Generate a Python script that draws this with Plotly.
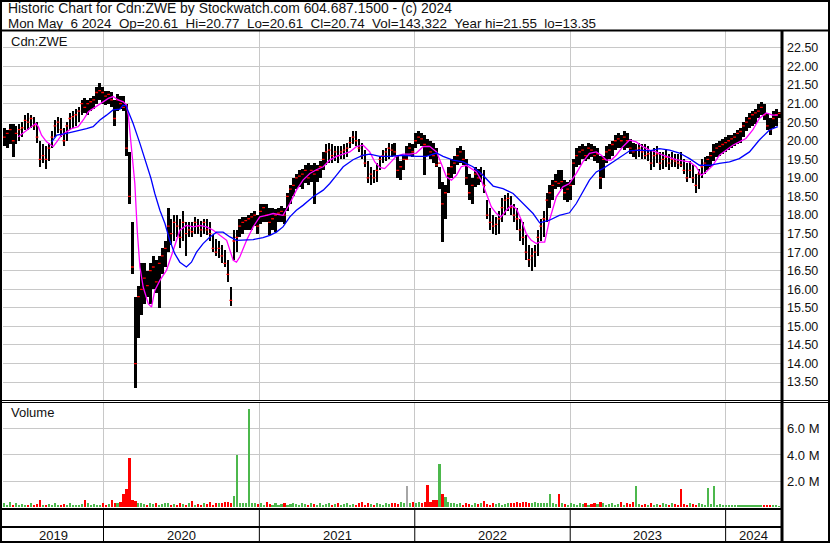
import pandas as pd
import plotly.graph_objects as go

# ---------------- data ----------------
first_week = "2019-05-13"          # weekly bars, one per week
x_start, x_end = "2019-05-10", "2024-05-10"
years = [2019, 2020, 2021, 2022, 2023, 2024]

high = [
    20.35, 20.30, 20.45, 20.45, 20.40, 20.45, 20.50, 20.70, 20.75, 20.70,
    20.65, 20.50, 20.00, 19.90, 19.85, 19.95, 20.25, 20.55, 20.65, 20.60,
    20.35, 20.50, 20.75, 20.80, 20.85, 20.90, 21.10, 21.15, 21.10, 21.15,
    21.20, 21.45, 21.55, 21.45, 21.35, 21.35, 21.30, 21.10, 21.25, 21.20,
    21.20, 21.00, 19.70, 17.80, 15.80, 16.10, 16.70, 16.70, 16.50, 16.70,
    16.90, 16.80, 16.90, 17.10, 17.30, 18.20, 17.90, 18.00, 18.00, 17.90,
    18.10, 17.80, 17.80, 17.80, 17.95, 17.90, 17.85, 17.90, 17.90, 17.80,
    17.45, 17.35, 17.30, 17.20, 17.05, 16.80, 16.05, 17.60, 17.60, 17.90,
    17.95, 17.95, 18.00, 18.05, 18.10, 18.00, 18.30, 18.30, 18.30, 18.20,
    18.20, 18.15, 18.20, 18.25, 18.20, 18.60, 18.80, 19.00, 19.10, 19.20,
    19.25, 19.35, 19.40, 19.35, 19.40, 19.35, 19.45, 19.70, 19.90, 19.95,
    19.90, 19.85, 19.85, 19.85, 19.90, 19.95, 20.10, 20.25, 20.25, 20.05,
    19.95, 19.75, 19.45, 19.30, 19.20, 19.40, 19.60, 19.75, 19.80, 19.95,
    19.90,
    19.95, 19.60, 19.45, 19.60, 19.85, 19.95, 19.90, 20.20, 20.25, 20.20,
    20.15, 20.05, 20.00, 19.95, 19.80, 19.30, 18.90, 18.80, 19.30, 19.50,
    19.60, 19.80, 19.85, 19.75, 19.50, 19.10, 19.00, 19.30, 19.25, 19.30,
    19.20, 18.40, 18.20, 18.00, 17.95, 18.10, 18.45, 18.55, 18.60, 18.50,
    18.30, 18.20, 17.90, 17.80, 17.45, 17.20, 17.10, 17.20, 17.60, 17.90,
    18.10, 18.60, 18.80, 18.95, 19.10, 19.20, 19.20, 18.95, 18.90, 18.95,
    19.50, 19.80, 19.85, 19.90, 19.85, 19.95, 19.90, 19.85, 19.80, 19.60,
    19.60, 19.85, 19.90, 20.00, 20.15, 20.20, 20.15, 20.25, 20.20, 20.05,
    19.95, 19.90, 19.95, 19.90, 19.90, 19.85, 19.75, 19.80, 19.85, 19.70,
    19.70, 19.75, 19.65, 19.70, 19.65, 19.65, 19.70, 19.50, 19.40, 19.45,
    19.35, 19.10, 19.25, 19.50, 19.55, 19.60, 19.70, 19.90, 19.95, 20.00,
    20.05, 20.10, 20.15, 20.15, 20.20, 20.30, 20.35, 20.50, 20.65, 20.75,
    20.80, 20.85, 21.00, 21.05, 21.00, 20.75, 20.60, 20.80, 20.85, 20.77,
]
low = [
    19.85, 19.80, 19.90, 19.55, 19.90, 20.00, 20.10, 20.30, 20.30, 20.35,
    20.30, 19.95, 19.30, 19.40, 19.25, 19.45, 19.80, 20.10, 20.20, 20.10,
    19.85, 20.00, 20.30, 20.35, 20.40, 20.50, 20.70, 20.75, 20.70, 20.80,
    20.85, 21.00, 21.10, 21.00, 20.95, 21.00, 20.90, 20.40, 20.80, 20.85,
    20.80, 19.60, 18.30, 16.40, 13.35, 14.70, 15.30, 15.60, 15.80, 15.60,
    16.00, 15.90, 15.50, 16.40, 16.60, 17.00, 17.20, 17.30, 17.40, 17.10,
    17.30, 16.90, 17.40, 17.40, 17.50, 17.50, 17.40, 17.50, 17.45, 17.30,
    17.00, 16.90, 16.85, 16.70, 16.60, 16.20, 15.55, 16.80, 17.00, 17.40,
    17.50, 17.60, 17.60, 17.60, 17.70, 17.50, 17.75, 17.80, 17.80, 17.45,
    17.60, 17.55, 17.80, 17.80, 17.75, 18.10, 18.30, 18.50, 18.70, 18.75,
    18.70, 18.85, 18.80, 18.90, 18.30, 18.90, 19.00, 19.20, 19.35, 19.40,
    19.40, 19.45, 19.40, 19.50, 19.50, 19.55, 19.80, 19.90, 19.85, 19.70,
    19.50, 19.30, 18.85, 18.80, 18.85, 18.90, 19.20, 19.40, 19.45, 19.50,
    19.55,
    19.60, 19.00, 18.95, 19.20, 19.50, 19.60, 19.55, 19.80, 19.90, 19.85,
    19.07, 19.60, 19.50, 19.40, 19.30, 18.70, 17.27, 17.90, 18.60, 19.00,
    19.10, 19.35, 19.40, 19.35, 18.80, 18.40, 18.30, 18.75, 18.80, 18.90,
    18.60, 17.90, 17.60, 17.50, 17.45, 17.50, 17.80, 18.00, 18.10, 18.00,
    17.80, 17.60, 17.30, 17.20, 16.80, 16.60, 16.50, 16.60, 16.90, 17.30,
    17.40, 17.80, 18.20, 18.40, 18.70, 18.75, 18.70, 18.40, 18.35, 18.40,
    18.80, 19.30, 19.35, 19.50, 19.45, 19.50, 19.55, 19.45, 19.40, 18.70,
    19.00, 19.40, 19.50, 19.60, 19.75, 19.80, 19.80, 19.75, 19.80, 19.65,
    19.55, 19.50, 19.55, 19.50, 19.50, 19.45, 19.20, 19.30, 19.40, 19.20,
    19.25, 19.30, 19.20, 19.30, 19.30, 19.25, 19.30, 19.10, 18.90, 19.00,
    18.85, 18.60, 18.70, 19.00, 19.10, 19.20, 19.30, 19.45, 19.55, 19.60,
    19.65, 19.70, 19.75, 19.80, 19.85, 19.90, 19.95, 20.10, 20.25, 20.35,
    20.40, 20.45, 20.60, 20.70, 20.55, 20.30, 20.15, 20.35, 20.40, 20.61,
]
close = [
    20.10, 20.20, 20.30, 20.00, 20.20, 20.30, 20.35, 20.55, 20.50, 20.60,
    20.40, 20.10, 19.50, 19.60, 19.50, 19.80, 20.10, 20.40, 20.50, 20.30,
    20.00, 20.40, 20.60, 20.65, 20.70, 20.80, 21.00, 20.90, 21.00, 21.05,
    21.10, 21.30, 21.35, 21.30, 21.20, 21.25, 21.10, 20.60, 21.10, 21.00,
    20.90, 19.80, 18.50, 16.60, 14.00, 15.80, 16.00, 16.30, 16.10, 16.50,
    16.60, 16.20, 16.70, 16.90, 17.10, 17.70, 17.50, 17.80, 17.70, 17.40,
    17.80, 17.50, 17.60, 17.55, 17.80, 17.70, 17.60, 17.80, 17.60, 17.50,
    17.10, 17.00, 17.10, 16.90, 16.70, 16.40, 15.70, 17.30, 17.40, 17.70,
    17.80, 17.85, 17.90, 17.95, 18.00, 17.70, 18.10, 18.20, 18.00, 17.80,
    17.90, 18.00, 18.05, 18.10, 18.00, 18.50, 18.70, 18.80, 19.00, 19.05,
    19.10, 19.20, 19.00, 19.20, 19.10, 19.20, 19.30, 19.50, 19.70, 19.75,
    19.60, 19.70, 19.60, 19.70, 19.75, 19.80, 19.95, 20.10, 20.00, 19.80,
    19.60, 19.40, 19.00, 19.10, 19.00, 19.20, 19.50, 19.60, 19.70, 19.80,
    19.75,
    19.70, 19.20, 19.30, 19.50, 19.50, 19.80, 19.70, 20.00, 20.10, 20.05,
    19.90, 19.85, 19.70, 19.60, 19.35, 19.40, 18.30, 18.60, 19.10, 19.30,
    19.40, 19.60, 19.70, 19.50, 19.00, 18.60, 18.80, 19.10, 19.00, 19.10,
    18.80, 18.00, 17.80, 17.70, 17.75, 17.90, 18.20, 18.40, 18.45, 18.20,
    18.00, 17.90, 17.60, 17.40, 17.00, 16.80, 16.90, 17.00, 17.40, 17.70,
    17.90, 18.40, 18.60, 18.80, 18.90, 18.85, 18.90, 18.60, 18.70, 18.80,
    19.40, 19.60, 19.70, 19.75, 19.60, 19.80, 19.75, 19.60, 19.65, 19.00,
    19.50, 19.70, 19.75, 19.90, 20.00, 20.05, 20.00, 20.10, 20.00, 19.80,
    19.70, 19.75, 19.80, 19.70, 19.60, 19.65, 19.40, 19.60, 19.65, 19.40,
    19.50, 19.55, 19.40, 19.50, 19.45, 19.40, 19.35, 19.20, 19.00, 19.20,
    19.00, 18.80, 19.10, 19.30, 19.40, 19.50, 19.60, 19.70, 19.80, 19.85,
    19.90, 19.95, 20.00, 20.05, 20.10, 20.20, 20.25, 20.40, 20.50, 20.60,
    20.70, 20.75, 20.80, 20.90, 20.70, 20.40, 20.30, 20.60, 20.70, 20.74,
]
volume_m = [
    0.35, 0.15, 0.45, 0.20, 0.30, 0.15, 0.25, 0.20, 0.15, 0.30, 0.20, 0.25, 0.60, 0.20, 0.15, 0.25, 0.20, 0.30, 0.15, 0.20,
    0.25, 0.15, 0.30, 0.20, 0.15, 0.20, 0.25, 0.60, 0.30, 0.20, 0.25, 0.15, 0.20, 0.30, 0.20, 0.25, 0.60, 0.30, 0.35, 0.40,
    1.00, 1.40, 3.80, 0.60, 0.50, 0.35, 0.30, 0.25, 0.20, 0.30, 0.25, 0.30, 0.20, 0.25, 0.35, 0.30, 0.20, 0.25, 0.20, 0.30,
    0.25, 0.20, 0.30, 0.50, 0.20, 0.25, 0.20, 0.30, 0.25, 0.45, 0.20, 0.30, 0.35, 0.30, 0.45, 0.40, 0.35, 0.90, 4.00, 0.30,
    0.35, 0.30, 7.50, 0.30, 0.30, 0.25, 0.35, 0.20, 0.45, 0.25, 0.20, 0.30, 0.20, 0.25, 0.30, 0.20, 0.25, 0.30, 0.25, 0.20,
    0.30, 0.25, 0.20, 0.30, 0.25, 0.20, 0.30, 0.20, 0.25, 0.35, 0.20, 0.25, 0.30, 0.20, 0.25, 0.30, 0.20, 0.25, 0.20, 0.30,
    0.45, 0.20, 0.30, 0.25, 0.20, 0.30, 0.25, 0.20, 0.30, 0.25, 0.35, 0.30, 0.25, 0.40, 0.30, 1.60, 0.35, 0.45, 0.30, 0.40,
    0.35, 0.40, 1.70, 0.45, 0.55, 0.60, 3.30, 1.00, 0.80, 0.40, 0.30, 0.35, 0.25, 0.30, 0.20, 0.30, 0.25, 0.20, 0.30, 0.25,
    0.30, 0.50, 0.25, 0.20, 0.30, 0.25, 0.30, 0.20, 0.25, 0.30, 0.35, 0.30, 0.40, 0.35, 0.45, 0.40, 0.35, 0.30, 0.40, 0.35,
    0.30, 0.35, 0.30, 1.00, 0.30, 0.25, 1.00, 0.30, 0.25, 0.20, 0.30, 0.25, 0.20, 0.30, 0.25, 0.30, 0.20, 0.25, 0.30, 0.25,
    0.45, 0.30, 0.20, 0.25, 0.30, 0.20, 0.25, 0.45, 0.20, 0.30, 0.25, 0.45, 1.60, 0.25, 0.20, 0.25, 0.20, 0.30, 0.20, 0.25,
    0.20, 0.30, 0.25, 0.20, 0.30, 0.25, 0.20, 1.40, 0.25, 0.20, 0.30, 0.25, 0.20, 0.30, 0.25, 0.20, 1.50, 0.25, 1.60, 0.20,
    0.25, 0.20, 0.15, 0.20, 0.15, 0.20, 0.15, 0.20, 0.15, 0.20, 0.15, 0.20, 0.15, 0.20, 0.15, 0.20, 0.15, 0.20, 0.15, 0.20, 0.14,
]

# short (magenta) and long (blue) moving averages, read at week offsets from first_week
ma_short_wk = [4.7, 6.9, 9.2, 10.6, 11.4, 12.5, 14.2, 16.4, 17.6, 19.2, 20.9, 22.6, 24.8, 26.5, 28.2, 29.8,
               31.5, 33.2, 34.9, 36.5, 38.2, 39.9, 41.0, 41.6, 42.5, 43.3, 43.8, 44.6, 45.5, 46.6, 48.3,
               49.4, 50.5, 52.2, 54.4, 56.7, 58.9, 61.1, 63.4, 65.6, 67.9, 70.1, 72.3, 74.6, 76.8, 77.9,
               79.0, 81.3, 83.5, 85.7, 88.0, 90.2, 93.5, 95.8, 98.0, 100.2, 102.5, 104.7, 107.0, 109.2,
               111.4, 113.7, 115.9, 118.1, 120.4, 122.6, 124.3, 126.0, 127.6, 129.3, 131.5, 133.8, 136.0,
               138.2, 140.5, 142.7, 145.0, 146.6, 148.3, 150.0, 151.7, 153.3, 155.0, 156.7, 158.4, 160.0,
               161.7, 163.4, 165.1, 166.7, 168.4, 170.1, 171.8, 173.5, 175.1, 176.8, 178.5, 179.6, 181.3,
               182.9, 185.2, 187.4, 189.6, 191.9, 194.1, 196.3, 198.6, 200.3, 201.9, 203.6, 205.3, 207.5,
               209.8, 212.0, 214.2, 216.5, 218.7, 220.9, 223.2, 225.4, 227.6, 229.9, 232.1, 233.8, 235.4,
               237.7, 239.9, 242.1, 244.4, 246.6, 248.8, 251.1, 253.3, 255.6, 257.8, 259.5]
ma_short = [20.11, 20.24, 20.38, 20.47, 20.38, 20.15, 19.97, 19.84, 19.97, 20.15, 20.24, 20.33, 20.38, 20.56,
            20.78, 20.87, 20.96, 21.05, 21.14, 21.19, 21.10, 21.05, 20.96, 20.70, 20.00, 19.40, 18.85, 17.59,
            16.60, 16.06, 15.61, 15.52, 15.97, 16.24, 16.51, 17.05, 17.59, 17.72, 17.68, 17.72, 17.68, 17.59,
            17.45, 17.32, 16.78, 16.73, 16.87, 17.32, 17.68, 17.95, 17.99, 18.04, 17.99, 18.31, 18.67, 18.94,
            19.12, 19.22, 19.30, 19.48, 19.58, 19.64, 19.70, 19.84, 19.88, 19.70, 19.43, 19.28, 19.25, 19.39,
            19.58, 19.64, 19.64, 19.67, 19.84, 19.85, 19.70, 19.39, 19.03, 18.94, 19.07, 19.30, 19.34, 19.25,
            19.16, 18.94, 18.58, 18.22, 18.04, 17.95, 18.13, 18.26, 18.17, 17.86, 17.50, 17.32, 17.23, 17.27,
            17.27, 17.86, 18.49, 18.76, 18.85, 19.12, 19.43, 19.66, 19.70, 19.61, 19.48, 19.48, 19.61, 19.84,
            20.02, 19.97, 19.84, 19.75, 19.70, 19.61, 19.55, 19.49, 19.46, 19.43, 19.30, 19.07, 19.16, 19.34,
            19.61, 19.75, 19.88, 19.97, 20.06, 20.29, 20.60, 20.75, 20.69, 20.69]
ma_long_wk = [15.9, 17.6, 20.9, 24.3, 27.6, 29.8, 32.1, 34.3, 36.5, 38.8, 39.8, 40.8, 43.2, 45.5, 48.2, 49.2,
              50.5, 52.2, 53.9, 55.5, 57.2, 58.9, 61.1, 62.8, 64.5, 66.7, 69.0, 71.2, 73.4, 75.7, 77.9, 80.1,
              83.5, 86.8, 89.1, 91.3, 93.5, 95.8, 98.0, 100.2, 103.6, 107.0, 109.2, 111.4, 113.7, 117.0,
              120.4, 122.6, 126.0, 129.3, 133.8, 138.2, 141.6, 145.0, 147.2, 150.5, 153.9, 157.2, 160.6,
              164.0, 167.3, 170.7, 172.9, 175.1, 177.4, 179.6, 182.9, 186.2, 189.6, 191.9, 194.1, 196.3,
              198.6, 200.8, 204.2, 207.5, 209.8, 213.2, 216.5, 219.8, 223.2, 226.5, 229.9, 233.2, 236.6,
              239.9, 243.3, 246.6, 250.0, 253.3, 256.7, 259.5]
ma_long = [19.97, 20.15, 20.20, 20.26, 20.33, 20.38, 20.56, 20.69, 20.83, 20.85, 20.96, 20.95, 20.47, 19.93,
           19.29, 18.99, 18.58, 18.13, 17.77, 17.32, 16.96, 16.73, 16.60, 16.73, 17.00, 17.23, 17.41, 17.54,
           17.54, 17.41, 17.32, 17.32, 17.34, 17.39, 17.45, 17.54, 17.68, 17.95, 18.13, 18.26, 18.49, 18.67,
           18.85, 19.07, 19.30, 19.49, 19.61, 19.64, 19.58, 19.58, 19.61, 19.58, 19.58, 19.67, 19.58, 19.48,
           19.43, 19.30, 19.07, 18.78, 18.71, 18.58, 18.40, 18.22, 18.04, 17.79, 17.86, 17.99, 18.06, 18.31,
           18.62, 18.94, 19.16, 19.25, 19.43, 19.61, 19.73, 19.75, 19.73, 19.79, 19.75, 19.67, 19.52, 19.34,
           19.34, 19.39, 19.43, 19.52, 19.70, 20.02, 20.29, 20.38]

price_ticks = [13.5 + 0.5 * i for i in range(19)]
volume_ticks = [2, 4, 6]

header_line1 = "Historic Chart for Cdn:ZWE by Stockwatch.com 604.687.1500 - (c) 2024"
header_line2 = ("Mon May\u00a0\u00a06 2024\u00a0\u00a0Op=20.61\u00a0\u00a0Hi=20.77\u00a0\u00a0Lo=20.61"
                "\u00a0\u00a0Cl=20.74\u00a0\u00a0Vol=143,322\u00a0\u00a0Year hi=21.55\u00a0\u00a0lo=13.35")
symbol_label = "Cdn:ZWE"

assert len(high) == len(low) == len(close) == len(volume_m), (len(high), len(low), len(close), len(volume_m))
assert len(ma_short_wk) == len(ma_short) and len(ma_long_wk) == len(ma_long)

# ---------------- figure ----------------
W, H = 830, 543
FONT = "Liberation Sans, Arial, sans-serif"
GRID = "#c8c8c8"
GREEN, RED, GREY = "#4cb84c", "#ff0000", "#a6a6a6"
TXT = "#111111"


def px(x):
    return x / W


def py(y):
    return 1 - y / H


t0 = pd.Timestamp(first_week)
dates = [t0 + pd.Timedelta(days=7 * i) for i in range(len(close))]
ma_short_dates = [t0 + pd.Timedelta(days=7 * w) for w in ma_short_wk]
ma_long_dates = [t0 + pd.Timedelta(days=7 * w) for w in ma_long_wk]
year_starts = [f"{y}-01-01" for y in years[1:]]

vol_colors = []
for i, c in enumerate(close):
    if i == 0 or c > close[i - 1]:
        vol_colors.append(GREEN)
    elif c < close[i - 1]:
        vol_colors.append(RED)
    else:
        vol_colors.append(GREY)

DAY_MS = 86400000
fig = go.Figure()
fig.add_trace(go.Bar(x=dates, y=[h - l for h, l in zip(high, low)], base=low,
                     width=6.0 * DAY_MS, marker=dict(color="black", line=dict(width=0)),
                     xaxis="x", yaxis="y", showlegend=False, hoverinfo="skip"))
fig.add_trace(go.Scatter(x=dates, y=close, mode="markers",
                         marker=dict(symbol="line-ew", size=2, line=dict(color=RED, width=1.3)),
                         xaxis="x", yaxis="y", showlegend=False, hoverinfo="skip"))
fig.add_trace(go.Scatter(x=ma_short_dates, y=ma_short, mode="lines",
                         line=dict(color="#ff00ff", width=1.3), xaxis="x", yaxis="y", showlegend=False))
fig.add_trace(go.Scatter(x=ma_long_dates, y=ma_long, mode="lines",
                         line=dict(color="#0000ff", width=1.3), xaxis="x", yaxis="y", showlegend=False))
fig.add_trace(go.Bar(x=dates, y=volume_m, width=5.0 * DAY_MS,
                     marker=dict(color=vol_colors, line=dict(width=0)),
                     xaxis="x2", yaxis="y2", showlegend=False, hoverinfo="skip"))

xdom = [px(3), px(781)]
common_x = dict(type="date", range=[x_start, x_end], domain=xdom, tickmode="array",
                tickvals=year_starts, showticklabels=False, ticks="", showgrid=True,
                gridcolor=GRID, gridwidth=1, zeroline=False, showline=False, fixedrange=True)
fig.update_layout(
    width=W, height=H, margin=dict(l=0, r=0, t=0, b=0, autoexpand=False),
    paper_bgcolor="white", plot_bgcolor="white",
    font=dict(family=FONT, size=13, color=TXT),
    xaxis=dict(common_x, anchor="y"),
    xaxis2=dict(common_x, anchor="y2", matches="x"),
    yaxis=dict(domain=[py(400.5), py(31)], range=[13.005, 22.956], side="right", anchor="x",
               tickmode="array", tickvals=price_ticks, ticktext=[f"{v:.2f}" for v in price_ticks],
               ticks="", ticklabelstandoff=5, tickfont=dict(size=12.5, family=FONT, color=TXT),
               showgrid=True, gridcolor=GRID, gridwidth=1, zeroline=False, showline=False,
               automargin=False, fixedrange=True),
    yaxis2=dict(domain=[py(509), py(402.5)], range=[-0.12, 8.0], side="right", anchor="x2",
                tickmode="array", tickvals=volume_ticks, ticktext=[f"{v:.1f} M" for v in volume_ticks],
                ticks="", ticklabelstandoff=5, tickfont=dict(size=13, family=FONT, color=TXT),
                showgrid=True, gridcolor=GRID, gridwidth=1, zeroline=False, showline=False,
                automargin=False, fixedrange=True),
    bargap=0,
)

shapes = []


def hline(y, x0, x1, w):
    shapes.append(dict(type="line", xref="paper", yref="paper", x0=px(x0), x1=px(x1), y0=py(y), y1=py(y),
                       line=dict(color="black", width=w)))


def vline(x, y0, y1, w):
    shapes.append(dict(type="line", xref="paper", yref="paper", x0=px(x), x1=px(x), y0=py(y0), y1=py(y1),
                       line=dict(color="black", width=w)))


hline(30.5, 0, 830, 2)        # under header
hline(400.5, 0, 830, 1)       # double line between panels
hline(402.5, 0, 830, 1)
hline(509, 0, 783, 2)         # bottom of volume panel
hline(527, 0, 783, 2)         # strip separator
vline(782, 30, 543, 3)        # right axis rule
shapes.append(dict(type="rect", xref="paper", yref="paper", x0=px(1), x1=px(829), y0=py(542), y1=py(1),
                   line=dict(color="black", width=2)))
for ys in year_starts:
    shapes.append(dict(type="line", xref="x", yref="paper", x0=ys, x1=ys, y0=py(541), y1=py(509.5),
                       line=dict(color="black", width=1)))
fig.update_layout(shapes=shapes)

ann = []
ann.append(dict(text=header_line1, x=px(6), y=py(8), xref="paper", yref="paper", xanchor="left",
                yanchor="middle", showarrow=False, font=dict(size=13.9, family=FONT, color=TXT)))
ann.append(dict(text=header_line2, x=px(6), y=py(23), xref="paper", yref="paper", xanchor="left",
                yanchor="middle", showarrow=False, font=dict(size=13.4, family=FONT, color=TXT)))
ann.append(dict(text=symbol_label, x=px(9), y=py(41.5), xref="paper", yref="paper", xanchor="left",
                yanchor="middle", showarrow=False, font=dict(size=13, family=FONT, color=TXT)))
ann.append(dict(text="Volume", x=px(9), y=py(413), xref="paper", yref="paper", xanchor="left",
                yanchor="middle", showarrow=False, font=dict(size=13, family=FONT, color=TXT)))
lo_t, hi_t = pd.Timestamp(x_start), pd.Timestamp(x_end)
for y in years:
    a = max(pd.Timestamp(f"{y}-01-01"), lo_t)
    b = min(pd.Timestamp(f"{y + 1}-01-01"), hi_t)
    mid = a + (b - a) / 2
    ann.append(dict(text=str(y), x=mid, y=py(535), xref="x", yref="paper", xanchor="center",
                    yanchor="middle", showarrow=False, font=dict(size=13, family=FONT, color=TXT)))
fig.update_layout(annotations=ann)

fig.write_html("out.html", config={"displayModeBar": False, "staticPlot": True},
               post_script="document.body.style.margin='0px';document.body.style.padding='0px';")
